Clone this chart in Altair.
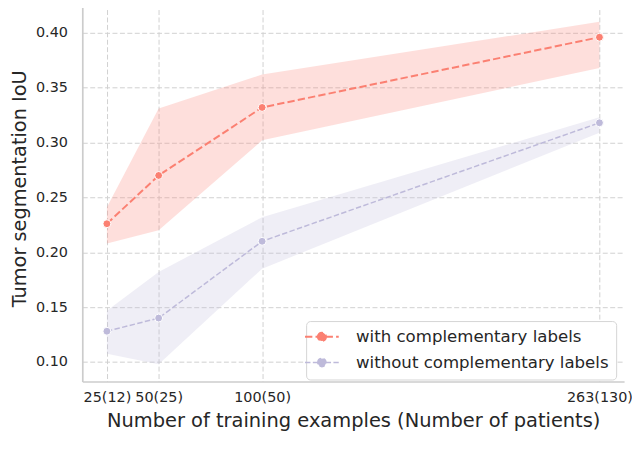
import altair as alt
import pandas as pd

# ---- data ----
x_vals = [25, 50, 100, 263]
x_labels = ["25(12)", "50(25)", "100(50)", "263(130)"]
series_names = ["with complementary labels", "without complementary labels"]

with_mean = [0.226, 0.270, 0.332, 0.396]
with_low = [0.208, 0.220, 0.302, 0.368]
with_high = [0.241, 0.331, 0.362, 0.410]

without_mean = [0.128, 0.140, 0.210, 0.318]
without_low = [0.1075, 0.098, 0.185, 0.309]
without_high = [0.1466, 0.182, 0.232, 0.323]

y_ticks = [0.10, 0.15, 0.20, 0.25, 0.30, 0.35, 0.40]
colors = ["#fb8072", "#bebada"]

rows = []
for name, m, lo, hi in [
    (series_names[0], with_mean, with_low, with_high),
    (series_names[1], without_mean, without_low, without_high),
]:
    for x, a, b, c in zip(x_vals, m, lo, hi):
        rows.append({"n": x, "series": name, "mean": a, "low": b, "high": c})
df = pd.DataFrame(rows)

label_expr = " : ".join(
    f"datum.value == {v} ? '{l}'" for v, l in zip(x_vals, x_labels)
) + " : ''"

FONT = "DejaVu Sans"
TXT = "#262626"

x_enc = alt.X(
    "n:Q",
    scale=alt.Scale(domain=[13.1, 274.9], nice=False, zero=False),
    axis=alt.Axis(
        values=x_vals,
        labelExpr=label_expr,
        title="Number of training examples (Number of patients)",
        ticks=False,
        tickSize=0,
        labelPadding=9,
        labelFontSize=14.5,
        titleFontSize=19.6,
        titleX=273.5,
        titleY=45,
        titleAlign="center",
        titleBaseline="alphabetic",
        gridDash=[5, 2.5],
    ),
)

y_scale = alt.Scale(domain=[0.0822, 0.428], nice=False, zero=False)
y_axis = alt.Axis(
    values=y_ticks,
    format=".2f",
    title="Tumor segmentation IoU",
    ticks=False,
    tickSize=0,
    labelPadding=15,
    labelFontSize=14.5,
    titleFontSize=19.5,
    titleX=-63,
    titleY=188,
    titleAlign="center",
    titleBaseline="middle",
    gridDash=[5, 2.5],
)

color_scale = alt.Scale(domain=series_names, range=colors)

# line + filled dot legend glyph (concentric rings so the dot reads as filled)
legend_path = (
    "M-2.27,0L-0.5,0M0.5,0L2.27,0"
    "M-0.55,0A0.55,0.55,0,1,1,0.55,0A0.55,0.55,0,1,1,-0.55,0"
    "M-0.38,0A0.38,0.38,0,1,1,0.38,0A0.38,0.38,0,1,1,-0.38,0"
    "M-0.2,0A0.2,0.2,0,1,1,0.2,0A0.2,0.2,0,1,1,-0.2,0"
    "M-0.05,0A0.05,0.05,0,1,1,0.05,0A0.05,0.05,0,1,1,-0.05,0"
)

legend = alt.Legend(
    title=None,
    orient="none",
    legendX=226,
    legendY=322,
    symbolType=legend_path,
    symbolSize=225,
    symbolOpacity=1,
    labelFontSize=16.75,
    labelFont=FONT,
    labelColor=TXT,
    labelOffset=26,
    padding=7.4,
    rowPadding=8,
    fillColor="white",
    strokeColor="#d4d4d4",
    cornerRadius=4,
    labelLimit=400,
)

color_enc = alt.Color("series:N", scale=color_scale, legend=legend)

band = alt.Chart(df).mark_area(opacity=0.25, interpolate="linear").encode(
    x=x_enc,
    y=alt.Y("low:Q", scale=y_scale, axis=y_axis),
    y2="high:Q",
    color=color_enc,
)

line = alt.Chart(df).mark_line(interpolate="linear").encode(
    x=x_enc,
    y=alt.Y("mean:Q", scale=y_scale, axis=y_axis),
    color=color_enc,
    strokeDash=alt.StrokeDash(
        "series:N",
        scale=alt.Scale(domain=series_names, range=[[7.4, 3.2], [5.5, 2.4]]),
        legend=None,
    ),
    strokeWidth=alt.StrokeWidth(
        "series:N",
        scale=alt.Scale(domain=series_names, range=[2.0, 1.5]),
        legend=legend,
    ),
)

points = alt.Chart(df).mark_circle(
    size=64, opacity=1, stroke="white", strokeWidth=1
).encode(
    x=x_enc,
    y=alt.Y("mean:Q", scale=y_scale, axis=y_axis),
    color=color_enc,
)

chart = (
    alt.layer(band, line, points)
    .properties(
        width=547,
        height=383,
        autosize=alt.AutoSizeParams(type="none"),
        padding={"left": 75, "top": -8, "right": 8, "bottom": 55},
        background="white",
    )
    .configure_view(stroke=None)
    .configure_axis(
        labelFont=FONT,
        titleFont=FONT,
        labelColor=TXT,
        titleColor=TXT,
        titleFontWeight="normal",
        domainColor="#cccccc",
        domainWidth=1.7,
        gridColor="#d0d0d0",
        gridWidth=1,
    )
)

chart.save("out.html", embed_options={"renderer": "svg", "actions": False})
